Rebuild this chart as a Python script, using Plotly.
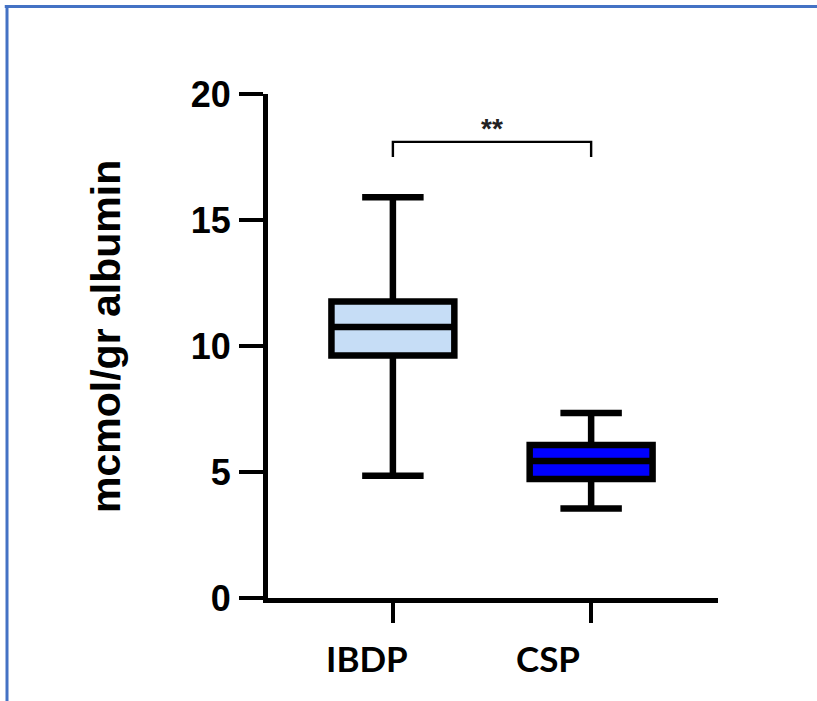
import plotly.graph_objects as go

# ---- data ----
groups = ["IBDP", "CSP"]
q_min = [4.85, 3.55]
q1 = [9.62, 4.72]
median = [10.75, 5.44]
q3 = [11.77, 6.07]
q_max = [15.9, 7.34]
fill_colors = ["#C6DDF6", "#0000FF"]

y_ticks = [0, 5, 10, 15, 20]
bracket_low = 17.5
bracket_high = 18.1
star_y = 18.65
star_text = "**"
y_title = "mcmol/gr albumin"
label_shift = [-26, -43]  # labels sit a bit left of their ticks in the reference

fig = go.Figure()
for i, g in enumerate(groups):
    fig.add_trace(go.Box(
        x=[g], q1=[q1[i]], median=[median[i]], q3=[q3[i]],
        lowerfence=[q_min[i]], upperfence=[q_max[i]],
        fillcolor=fill_colors[i],
        line=dict(color="black", width=6.5),
        whiskerwidth=0.5, width=0.62,
        boxpoints=False, hoverinfo="skip", showlegend=False,
    ))

# significance bracket
fig.add_trace(go.Scatter(
    x=[groups[0], groups[0], groups[1], groups[1]],
    y=[bracket_low, bracket_high, bracket_high, bracket_low],
    mode="lines", line=dict(color="black", width=2.4),
    hoverinfo="skip", showlegend=False,
))
fig.add_annotation(x=0.5, xref="x", y=star_y, yref="y", text=star_text,
                   showarrow=False,
                   font=dict(family="Liberation Sans", size=28, color="#222222", weight="bold"))

# category labels
for i, g in enumerate(groups):
    fig.add_annotation(x=g, xref="x", y=-0.119, yref="paper", text=g,
                       xshift=label_shift[i], showarrow=False,
                       xanchor="center", yanchor="middle",
                       font=dict(family="Lato", size=35, color="black", weight="bold"))

# y-axis title
fig.add_annotation(x=0, xref="paper", xshift=-162, y=0.518, yref="paper",
                   text=y_title, textangle=-90, showarrow=False,
                   font=dict(family="Liberation Sans", size=41, color="black", weight="bold"),
                   xanchor="center", yanchor="middle")

# blue frame (top & left)
frame_col = "#4472C4"
fig.add_shape(type="line", xref="paper", yref="paper", x0=-0.585, x1=1.24,
              y0=1.1736, y1=1.1736, line=dict(color=frame_col, width=3))
fig.add_shape(type="line", xref="paper", yref="paper", x0=-0.58, x1=-0.58,
              y0=1.1766, y1=-0.21, line=dict(color=frame_col, width=3))

fig.update_layout(
    width=817, height=701,
    margin=dict(l=268, r=99, t=94, b=103),
    paper_bgcolor="white", plot_bgcolor="white",
    boxmode="overlay",
    xaxis=dict(
        type="category", categoryorder="array", categoryarray=groups,
        range=[-0.63, 1.64],
        showline=True, linecolor="black", linewidth=5,
        ticks="outside", ticklen=20, tickwidth=4, tickcolor="black",
        showticklabels=False,
        showgrid=False, zeroline=False,
    ),
    yaxis=dict(
        range=[0, 20], tickvals=y_ticks,
        showline=True, linecolor="black", linewidth=5,
        ticks="outside", ticklen=24, tickwidth=4, tickcolor="black",
        tickfont=dict(family="Liberation Sans", size=36, color="black", weight="bold"),
        showgrid=False, zeroline=False, ticklabelstandoff=1,
    ),
)

fig.write_html("out.html", config={"displayModeBar": False},
               post_script="document.body.style.margin='0';")
